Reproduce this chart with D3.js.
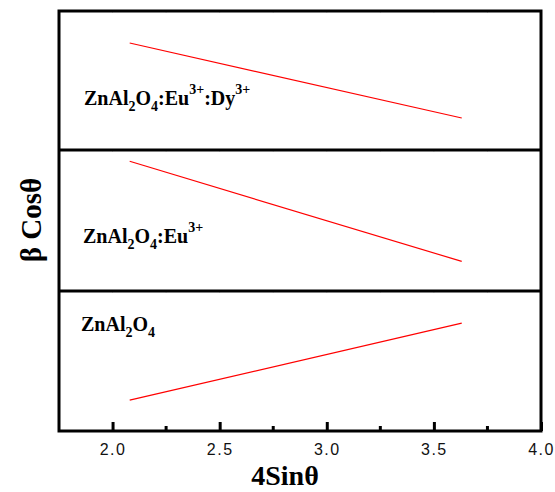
<!DOCTYPE html>
<html>
<head>
<meta charset="utf-8">
<script src="https://cdn.jsdelivr.net/npm/d3@7.9.0/dist/d3.min.js"></script>
<style>
  body { margin: 0; background: #fff; }
  svg { display: block; }
</style>
</head>
<body>
<svg id="chart" width="555" height="492"></svg>
<script>
// data (arbitrary y units, each panel 0..1)
const samples = ["ZnAl2O4:Eu3+:Dy3+", "ZnAl2O4:Eu3+", "ZnAl2O4"];
const xStart = [2.08, 2.08, 2.08];
const xEnd = [3.63, 3.63, 3.63];
const yStart = [0.77, 0.92, 0.22];
const yEnd = [0.23, 0.21, 0.77];
const xTicks = [2.0, 2.5, 3.0, 3.5, 4.0];
const xMinor = [2.25, 2.75, 3.25, 3.75];

const serif = "'Liberation Serif', 'Times New Roman', serif";
const svg = d3.select("#chart");
const plotLeft = 59, plotRight = 541, plotTop = 11, plotBottom = 431;
const panelEdges = [11, 150, 291, 431];

const x = d3.scaleLinear().domain([1.75, 4.0]).range([plotLeft, plotRight]);

// panels
samples.forEach((name, i) => {
    const y = d3.scaleLinear().domain([0, 1]).range([panelEdges[i + 1], panelEdges[i]]);
    svg.append("line")
        .attr("x1", x(xStart[i])).attr("y1", y(yStart[i]))
        .attr("x2", x(xEnd[i])).attr("y2", y(yEnd[i]))
        .attr("stroke", "#ff0000").attr("stroke-width", 1.2);

    // faint ticks on top of each panel
    svg.selectAll(null).data(xTicks.concat(xMinor)).join("line")
        .attr("x1", d => x(d)).attr("x2", d => x(d))
        .attr("y1", panelEdges[i]).attr("y2", panelEdges[i] + 1.5)
        .attr("stroke", "#bbb").attr("stroke-width", 1);
});

// frame and dividers
svg.append("rect")
    .attr("x", plotLeft).attr("y", plotTop)
    .attr("width", plotRight - plotLeft).attr("height", plotBottom - plotTop)
    .attr("fill", "none").attr("stroke", "#000").attr("stroke-width", 3);
[panelEdges[1], panelEdges[2]].forEach(py => {
    svg.append("line")
        .attr("x1", plotLeft).attr("x2", plotRight).attr("y1", py).attr("y2", py)
        .attr("stroke", "#000").attr("stroke-width", 3);
});

// bottom axis, ticks pointing in
const axis = svg.append("g").attr("transform", `translate(0,${plotBottom})`);
axis.call(d3.axisBottom(x).tickValues(xTicks).tickSize(-9).tickFormat(d3.format(".1f")).tickPadding(13));
axis.select(".domain").remove();
axis.selectAll(".tick line").attr("stroke-width", 3);
axis.selectAll(".tick text")
    .attr("font-family", "'Liberation Sans', Arial, sans-serif")
    .attr("font-size", 16).attr("letter-spacing", 1.5).attr("fill", "#111");
axis.selectAll(null).data(xMinor).join("line")
    .attr("x1", d => x(d)).attr("x2", d => x(d))
    .attr("y1", 0).attr("y2", -5)
    .attr("stroke", "#000").attr("stroke-width", 3);

// sample labels
function label(tx, ty, parts) {
    const t = svg.append("text")
        .attr("font-family", serif).attr("font-weight", "bold")
        .attr("x", tx).attr("y", ty).attr("font-size", 20);
    parts.forEach(([s, kind]) => {
        const ts = t.append("tspan").text(s);
        if (kind === "sub") ts.attr("font-size", 14).attr("dy", 6);
        if (kind === "sup") ts.attr("font-size", 14).attr("dy", -11);
        if (kind === "subback") ts.attr("dy", -6);
        if (kind === "supback") ts.attr("dy", 11);
    });
}
label(84, 105, [["ZnAl"], ["2", "sub"], ["O", "subback"], ["4", "sub"], [":Eu", "subback"], ["3+", "sup"], [":Dy", "supback"], ["3+", "sup"]]);
label(83, 243, [["ZnAl"], ["2", "sub"], ["O", "subback"], ["4", "sub"], [":Eu", "subback"], ["3+", "sup"]]);
label(81, 331, [["ZnAl"], ["2", "sub"], ["O", "subback"], ["4", "sub"]]);

// axis titles
svg.append("text")
    .attr("font-family", serif).attr("font-weight", "bold")
    .attr("x", 285).attr("y", 485)
    .attr("text-anchor", "middle").attr("font-size", 28)
    .text("4Sinθ");
svg.append("text")
    .attr("font-family", serif).attr("font-weight", "bold")
    .attr("transform", "translate(41,220) rotate(-90)")
    .attr("text-anchor", "middle").attr("font-size", 29)
    .text("β Cosθ");
</script>
</body>
</html>
